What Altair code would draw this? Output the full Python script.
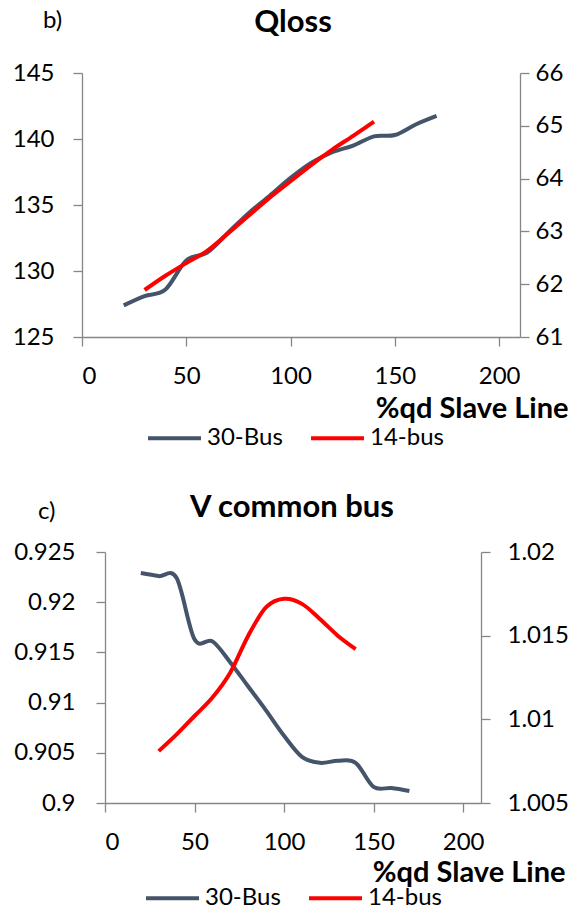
import altair as alt
import pandas as pd

# ---- data ----
series_names = ["30-Bus", "14-bus"]
series_colors = ["#44546A", "#FF0000"]

x_30 = [20, 30, 40, 50, 60, 70, 80, 90, 100, 110, 120, 130, 140, 150, 160, 170]
qloss_30 = [127.4, 128.1, 128.6, 130.8, 131.4, 132.9, 134.4, 135.7, 137.05, 138.2,
            139.0, 139.5, 140.2, 140.3, 141.1, 141.75]
v_30 = [0.9229, 0.9226, 0.9224, 0.9163, 0.9161, 0.9140, 0.9116, 0.9092, 0.9067,
        0.9046, 0.9040, 0.9042, 0.9040, 0.9016, 0.9015, 0.9012]

x_14 = [30, 40, 50, 60, 70, 80, 90, 100, 110, 120, 130, 140]
qloss_14 = [61.89, 62.16, 62.4, 62.63, 62.96, 63.3, 63.64, 63.95, 64.26, 64.55, 64.81, 65.08]
v_14 = [1.0081, 1.0091, 1.0102, 1.0113, 1.0128, 1.0150, 1.0167, 1.0172, 1.0169,
        1.0160, 1.0150, 1.0142]

x_ticks = [0, 50, 100, 150, 200]
qloss_left_ticks = [125, 130, 135, 140, 145]
qloss_right_ticks = [61, 62, 63, 64, 65, 66]
v_left_ticks = [0.9, 0.905, 0.91, 0.915, 0.92, 0.925]
v_right_ticks = [1.005, 1.01, 1.015, 1.02]

FONT = "Lato"
AX = "#868686"


def panel(xa, ya, xb, yb, ldom, lticks, rdom, rticks, w, h, x_start, letter, title,
          letter_x, letter_y, title_x, title_y, leg_x, leg_y, xt_x, xt_y,
          lpad_left, lpad_right):
    dfa = pd.DataFrame({"x": xa, "y": ya, "series": series_names[0]})
    dfb = pd.DataFrame({"x": xb, "y": yb, "series": series_names[1]})
    color = alt.Color(
        "series:N",
        scale=alt.Scale(domain=series_names, range=series_colors),
        legend=alt.Legend(
            orient="none", legendX=leg_x, legendY=leg_y, direction="horizontal",
            title=None, symbolType="stroke", symbolSize=2809, symbolStrokeWidth=4,
            labelFont=FONT, labelFontSize=24, labelColor="#000000", labelOffset=4,
            columnPadding=20, padding=0,
        ),
    )
    xenc = alt.X(
        "x:Q",
        scale=alt.Scale(domain=[0, 210], nice=False, zero=False, range=[x_start, w]),
        axis=alt.Axis(
            values=x_ticks, title="%qd Slave Line", titleAnchor="end", titleAlign="right",
            titleX=xt_x, titleY=xt_y, titleBaseline="alphabetic", titleFontWeight="bold",
            titleFontSize=29, titleFont=FONT, titleColor="#000000", labelPadding=18,
        ),
    )
    la = alt.Chart(dfa).mark_line(interpolate="cardinal", strokeWidth=4).encode(
        x=xenc,
        y=alt.Y("y:Q", scale=alt.Scale(domain=ldom, nice=False, zero=False),
                axis=alt.Axis(orient="left", values=lticks, format="~g", title=None,
                              labelPadding=lpad_left, offset=-x_start)),
        color=color,
    )
    lb = alt.Chart(dfb).mark_line(interpolate="cardinal", strokeWidth=4).encode(
        x=xenc,
        y=alt.Y("y:Q", scale=alt.Scale(domain=rdom, nice=False, zero=False),
                axis=alt.Axis(orient="right", values=rticks, format="~g", title=None,
                              labelPadding=lpad_right)),
        color=color,
    )
    lab = alt.Chart(pd.DataFrame({"t": [letter]})).mark_text(
        font=FONT, fontSize=24, align="left", baseline="alphabetic", color="#000000"
    ).encode(text="t:N", x=alt.value(letter_x), y=alt.value(letter_y))
    ttl = alt.Chart(pd.DataFrame({"t": [title]})).mark_text(
        font=FONT, fontSize=31, fontWeight="bold", align="center", baseline="alphabetic",
        color="#000000"
    ).encode(text="t:N", x=alt.value(title_x), y=alt.value(title_y))
    return alt.layer(la, lb, lab, ttl).resolve_scale(y="independent").properties(
        width=w, height=h
    )


top = panel(x_30, qloss_30, x_14, qloss_14, [125, 145], qloss_left_ticks, [61, 66],
            qloss_right_ticks, 438, 264, 0, "b)", "Qloss",
            -39, -45, 211, -41, 64, 336.5, 486, 80, 19, 6)
bottom = panel(x_30, v_30, x_14, v_14, [0.9, 0.925], v_left_ticks, [1.005, 1.02],
               v_right_ticks, 399, 251, 23, "c)", "V common bus",
               -44, -33, 210, -35, 62, 317.5, 483, 78, 21, 17)

chart = alt.vconcat(top, bottom, spacing=41).resolve_scale(
    color="independent", x="independent", y="independent"
).resolve_legend(color="independent").properties(
    padding={"left": 4, "top": -1, "right": 0, "bottom": 0}
).configure_axis(
    domainColor=AX, tickColor=AX, tickSize=9, grid=False, labelFont=FONT,
    labelFontSize=24, labelColor="#000000", domainWidth=1.3, tickWidth=1.3,
).configure_view(stroke=None)

chart.save("out.html", embed_options={"renderer": "svg", "actions": False})
